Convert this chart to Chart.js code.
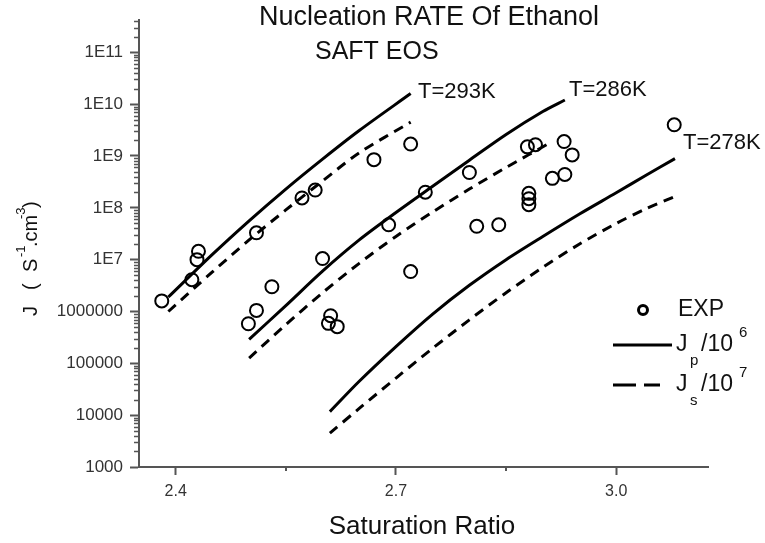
<!DOCTYPE html>
<html>
<head>
<meta charset="utf-8">
<script src="https://cdn.jsdelivr.net/npm/chart.js@4.4.1/dist/chart.umd.min.js"></script>
<style>
  html, body { margin: 0; padding: 0; background: #fff; }
  #chart { display: block; }
</style>
</head>
<body>
<canvas id="chart" width="765" height="543"></canvas>
<script>
// experimental points (saturation ratio, J)
const expSat = [2.381, 2.422, 2.429, 2.431, 2.499, 2.510, 2.510, 2.531, 2.572, 2.590, 2.600,
    2.608, 2.611, 2.620, 2.670, 2.690, 2.720, 2.720, 2.740, 2.800, 2.810, 2.840, 2.879, 2.881,
    2.881, 2.881, 2.890, 2.913, 2.929, 2.930, 2.940, 3.079];
const expJ = [1.6e6, 4.1e6, 1.0e7, 1.45e7, 5.8e5, 1.05e6, 3.3e7, 3.0e6, 1.55e8, 2.2e8, 1.05e7,
    5.9e5, 8.3e5, 5.1e5, 8.5e8, 4.7e7, 1.7e9, 5.9e6, 2.0e8, 4.8e8, 4.4e7, 4.7e7, 1.5e9, 1.9e8,
    1.5e8, 1.15e8, 1.65e9, 3.7e8, 1.9e9, 4.4e8, 1.05e9, 4.0e9];

// T = 293K
const sat293 = [2.39, 2.45, 2.50, 2.55, 2.60, 2.65, 2.72];
const jp293 = [1.9e6, 1.26e7, 5.6e7, 2.3e8, 8.7e8, 3.1e9, 1.6e10];
const js293 = [1.0e6, 5.8e6, 2.4e7, 9.1e7, 3.3e8, 1.15e9, 4.5e9];

// T = 286K
const satP286 = [2.50, 2.55, 2.60, 2.65, 2.70, 2.75, 2.80, 2.85, 2.90, 2.93];
const jp286 = [2.9e5, 1.3e6, 6.0e6, 2.4e7, 8.1e7, 2.6e8, 8.3e8, 2.6e9, 7.2e9, 1.2e10];
const satS286 = [2.50, 2.55, 2.60, 2.65, 2.70, 2.75, 2.80, 2.85, 2.91];
const js286 = [1.26e5, 5.6e5, 2.3e6, 8.5e6, 2.8e7, 8.3e7, 2.3e8, 6.0e8, 1.8e9];

// T = 278K
const sat278 = [2.61, 2.65, 2.70, 2.75, 2.80, 2.85, 2.90, 2.95, 3.00, 3.04, 3.08];
const jp278 = [1.17e4, 4.5e4, 2.1e5, 8.9e5, 3.2e6, 1.0e7, 2.8e7, 7.6e7, 1.95e8, 4.2e8, 8.9e8];
const js278 = [4.5e3, 1.35e4, 5.2e4, 1.95e5, 6.9e5, 2.3e6, 7.1e6, 2.0e7, 5.0e7, 9.5e7, 1.66e8];

const xMajorTicks = [2.4, 2.7, 3.0];
const xMinorTicks = [2.55, 2.85];
const yTicks = [1e3, 1e4, 1e5, 1e6, 1e7, 1e8, 1e9, 1e10, 1e11];

const FONT = '"Liberation Sans", Arial, sans-serif';

function pts(xs, ys) {
    return xs.map((x, i) => ({ x: x, y: ys[i] }));
}

function curve(xs, ys, dashed) {
    return {
        data: pts(xs, ys),
        showLine: true,
        borderColor: '#000',
        borderWidth: 3,
        borderDash: dashed ? [10, 7] : [],
        pointRadius: 0,
        tension: 0.3,
        fill: false
    };
}

function txt(ctx, s, x, y, size, align) {
    ctx.font = size + 'px ' + FONT;
    ctx.textAlign = align || 'left';
    ctx.textBaseline = 'middle';
    ctx.fillText(s, x, y);
}

const extras = {
    id: 'extras',
    afterDraw(chart) {
        const ctx = chart.ctx;
        const xs = chart.scales.x, ys = chart.scales.y;
        const area = chart.chartArea;
        ctx.save();

        // minor ticks
        ctx.strokeStyle = '#555';
        ctx.lineWidth = 1.5;
        ctx.beginPath();
        for (let d = 1e3; d < ys.max; d *= 10) {
            for (let k = 2; k <= 9; k++) {
                const v = k * d;
                if (v > ys.max) break;
                const py = Math.round(ys.getPixelForValue(v)) + 0.5;
                ctx.moveTo(area.left - 5, py);
                ctx.lineTo(area.left, py);
            }
        }
        ctx.stroke();
        ctx.lineWidth = 2;
        ctx.beginPath();
        xMinorTicks.forEach(v => {
            const px = Math.round(xs.getPixelForValue(v));
            ctx.moveTo(px, area.bottom);
            ctx.lineTo(px, area.bottom + 4);
        });
        ctx.stroke();

        ctx.fillStyle = '#111';
        txt(ctx, 'Nucleation RATE Of Ethanol', 429, 18, 27, 'center');
        txt(ctx, 'SAFT EOS', 315, 52, 25);
        txt(ctx, 'T=293K', 418, 92, 22);
        txt(ctx, 'T=286K', 569, 90, 22);
        txt(ctx, 'T=278K', 683, 143, 22);
        txt(ctx, 'Saturation Ratio', 422, 527, 26, 'center');

        // legend
        ctx.strokeStyle = '#000';
        ctx.lineWidth = 3;
        ctx.beginPath();
        ctx.arc(643, 310, 4.5, 0, Math.PI * 2);
        ctx.stroke();
        txt(ctx, 'EXP', 678, 310, 23);

        ctx.beginPath();
        ctx.moveTo(613, 345);
        ctx.lineTo(672, 345);
        ctx.stroke();
        txt(ctx, 'J', 676, 345, 23);
        txt(ctx, 'p', 690, 361, 15);
        txt(ctx, '/10', 701, 345, 23);
        txt(ctx, '6', 739, 333, 15);

        ctx.setLineDash([23, 8]);
        ctx.beginPath();
        ctx.moveTo(613, 385);
        ctx.lineTo(660, 385);
        ctx.stroke();
        ctx.setLineDash([]);
        txt(ctx, 'J', 676, 385, 23);
        txt(ctx, 's', 690, 401, 15);
        txt(ctx, '/10', 701, 385, 23);
        txt(ctx, '7', 739, 373, 15);

        // y axis title, rotated
        ctx.translate(31, 318);
        ctx.rotate(-Math.PI / 2);
        txt(ctx, 'J', 2, 0, 20);
        txt(ctx, '(', 28, 0, 20);
        txt(ctx, 'S', 46, 0, 20);
        txt(ctx, '-1', 61, -10, 13);
        txt(ctx, '.cm', 71, 0, 20);
        txt(ctx, '-3', 99, -10, 13);
        txt(ctx, ')', 110, 0, 20);

        ctx.restore();
    }
};

new Chart(document.getElementById('chart'), {
    type: 'scatter',
    data: {
        datasets: [
            curve(sat293, jp293, false),
            curve(sat293, js293, true),
            curve(satP286, jp286, false),
            curve(satS286, js286, true),
            curve(sat278, jp278, false),
            curve(sat278, js278, true),
            {
                data: pts(expSat, expJ),
                pointStyle: 'circle',
                pointRadius: 6.5,
                pointBorderWidth: 2,
                pointBorderColor: '#000',
                pointBackgroundColor: 'rgba(0,0,0,0)',
                showLine: false
            }
        ]
    },
    options: {
        responsive: false,
        animation: false,
        devicePixelRatio: 1,
        layout: { padding: { top: 20, right: 57, bottom: 0, left: 0 } },
        plugins: {
            legend: { display: false },
            tooltip: { enabled: false },
            title: { display: false }
        },
        scales: {
            x: {
                type: 'linear',
                min: 2.35,
                max: 3.125,
                afterBuildTicks: s => { s.ticks = xMajorTicks.map(v => ({ value: v })); },
                afterFit: s => { s.height = 76; },
                ticks: {
                    callback: v => v.toFixed(1),
                    color: '#333',
                    padding: 7,
                    font: { family: FONT, size: 16 }
                },
                grid: { drawOnChartArea: false, tickLength: 8, tickWidth: 2, tickColor: '#555' },
                border: { color: '#555', width: 2 }
            },
            y: {
                type: 'logarithmic',
                min: 1000,
                max: 4.2e11,
                afterBuildTicks: s => { s.ticks = yTicks.map(v => ({ value: v })); },
                afterFit: s => { s.width = 139; },
                ticks: {
                    callback: v => v < 1e7 ? String(v) : '1E' + Math.round(Math.log10(v)),
                    color: '#333',
                    padding: 7,
                    font: { family: FONT, size: 17 }
                },
                grid: { drawOnChartArea: false, tickLength: 9, tickWidth: 2, tickColor: '#555' },
                border: { color: '#555', width: 2 }
            }
        }
    },
    plugins: [extras]
});
</script>
</body>
</html>
